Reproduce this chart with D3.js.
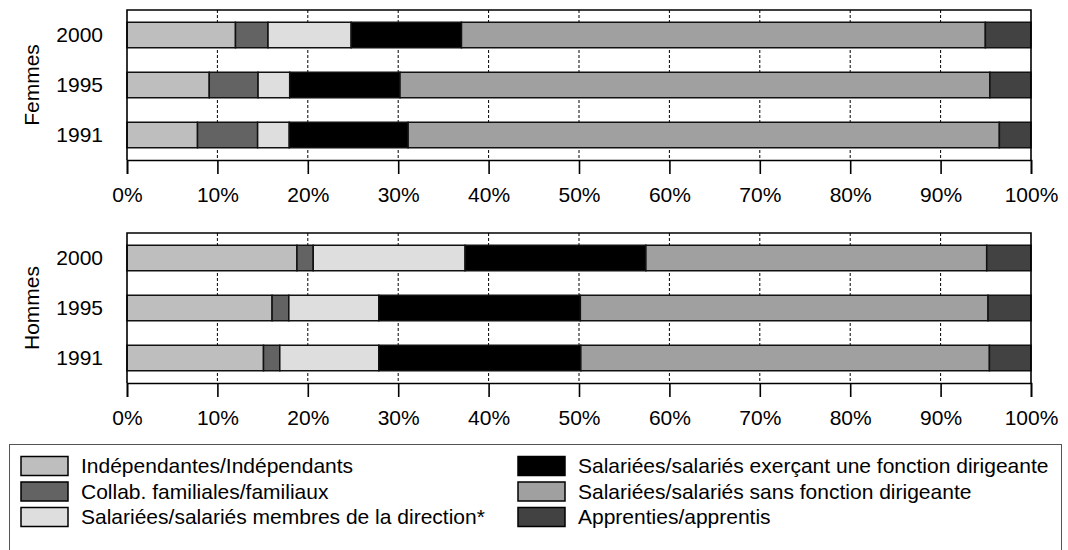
<!DOCTYPE html>
<html>
<head>
<meta charset="utf-8">
<script src="https://cdn.jsdelivr.net/npm/d3@7"></script>
<style>
  html, body { margin: 0; padding: 0; background: #fff; }
  svg { display: block; font-family: "Liberation Sans", Arial, sans-serif; }
</style>
</head>
<body>
<svg id="chart" width="1068" height="550"></svg>
<script>
// ---- data ----
const years = ["2000", "1995", "1991"];
const groups = ["Femmes", "Hommes"];
const seriesNames = [
  "Indépendantes/Indépendants",
  "Collab. familiales/familiaux",
  "Salariées/salariés membres de la direction*",
  "Salariées/salariés exerçant une fonction dirigeante",
  "Salariées/salariés sans fonction dirigeante",
  "Apprenties/apprentis"
];
const seriesColors = ["#bebebe", "#636363", "#dedede", "#000000", "#a0a0a0", "#424242"];
const tickValues = [0, 10, 20, 30, 40, 50, 60, 70, 80, 90, 100];

// values per row, in series order (percent)
const femmes2000 = [12.0, 3.6, 9.2, 12.2, 57.95, 5.05];
const femmes1995 = [9.1, 5.4, 3.5, 12.2, 65.25, 4.55];
const femmes1991 = [7.8, 6.65, 3.5, 13.15, 65.4, 3.5];
const hommes2000 = [18.8, 1.8, 16.8, 20.0, 37.7, 4.9];
const hommes1995 = [16.05, 1.85, 9.95, 22.3, 45.1, 4.75];
const hommes1991 = [15.1, 1.8, 10.95, 22.35, 45.2, 4.6];

// ---- build tables ----
function rows(arrs) {
  return years.map((y, i) => {
    const r = { year: y };
    seriesNames.forEach((s, j) => { r[s] = arrs[i][j]; });
    return r;
  });
}
const panels = [
  { label: groups[0], data: rows([femmes2000, femmes1995, femmes1991]), top: 10, bottom: 160 },
  { label: groups[1], data: rows([hommes2000, hommes1995, hommes1991]), top: 233, bottom: 383 }
];

const svg = d3.select("#chart");
const x = d3.scaleLinear().domain([0, 100]).range([127, 1031]);
const color = d3.scaleOrdinal().domain(seriesNames).range(seriesColors);
const stack = d3.stack().keys(seriesNames);
const FS = 21;

panels.forEach(p => {
  const y = d3.scaleBand().domain(years).range([p.top, p.bottom])
    .paddingInner(0.49).paddingOuter(0.245);
  const g = svg.append("g");

  // grid lines
  g.selectAll("line.grid").data(tickValues.slice(1, -1)).join("line")
    .attr("class", "grid")
    .attr("x1", d => x(d)).attr("x2", d => x(d))
    .attr("y1", p.top).attr("y2", p.bottom)
    .attr("stroke", "#000").attr("stroke-width", 1)
    .attr("stroke-dasharray", "3,2");

  // bars
  const series = stack(p.data);
  g.selectAll("g.series").data(series).join("g")
    .attr("class", "series")
    .attr("fill", d => color(d.key))
    .selectAll("rect").data(d => d).join("rect")
    .attr("x", d => x(d[0]))
    .attr("width", d => x(d[1]) - x(d[0]))
    .attr("y", d => y(d.data.year))
    .attr("height", y.bandwidth())
    .attr("stroke", "#111")
    .attr("stroke-width", 1.5);

  // frame
  g.append("path")
    .attr("d", `M${x(0)},${p.bottom}V${p.top}H${x(100)}V${p.bottom}`)
    .attr("fill", "none").attr("stroke", "#000").attr("stroke-width", 1.6);

  // x axis
  const ax = g.append("g").attr("transform", `translate(0,${p.bottom})`)
    .call(d3.axisBottom(x).tickValues(tickValues).tickSize(14).tickPadding(13)
      .tickFormat(d => d + "%"));
  ax.select(".domain").attr("stroke", "#000").attr("stroke-width", 1.6);
  ax.selectAll(".tick line").attr("stroke", "#000").attr("stroke-width", 1.6);
  ax.selectAll("text").attr("font-size", FS).attr("font-family", "Liberation Sans, Arial, sans-serif").attr("fill", "#000");

  // y labels
  const yax = g.append("g").attr("transform", `translate(${x(0)},0)`)
    .call(d3.axisLeft(y).tickSize(0).tickPadding(24));
  yax.select(".domain").remove();
  yax.selectAll("text").attr("font-size", FS).attr("font-family", "Liberation Sans, Arial, sans-serif").attr("fill", "#000");

  // group label
  g.append("text")
    .attr("transform", `translate(39,${(p.top + p.bottom) / 2}) rotate(-90)`)
    .attr("text-anchor", "middle")
    .attr("font-size", FS)
    .text(p.label);
});

// ---- legend ----
const lg = svg.append("g");
lg.append("rect").attr("x", 9.5).attr("y", 444.5).attr("width", 1052).attr("height", 120)
  .attr("fill", "none").attr("stroke", "#555").attr("stroke-width", 1);
const lx = [21, 518];
const ly = [466, 491.5, 517];
seriesNames.forEach((s, i) => {
  const col = Math.floor(i / 3), row = i % 3;
  const item = lg.append("g").attr("transform", `translate(${lx[col]},${ly[row]})`);
  item.append("rect").attr("x", 0).attr("y", -9.5).attr("width", 47).attr("height", 19)
    .attr("fill", color(s)).attr("stroke", "#000").attr("stroke-width", 1.5);
  item.append("text").attr("x", 60).attr("y", 0).attr("dy", "0.35em")
    .attr("font-size", FS).text(s);
});
</script>
</body>
</html>
